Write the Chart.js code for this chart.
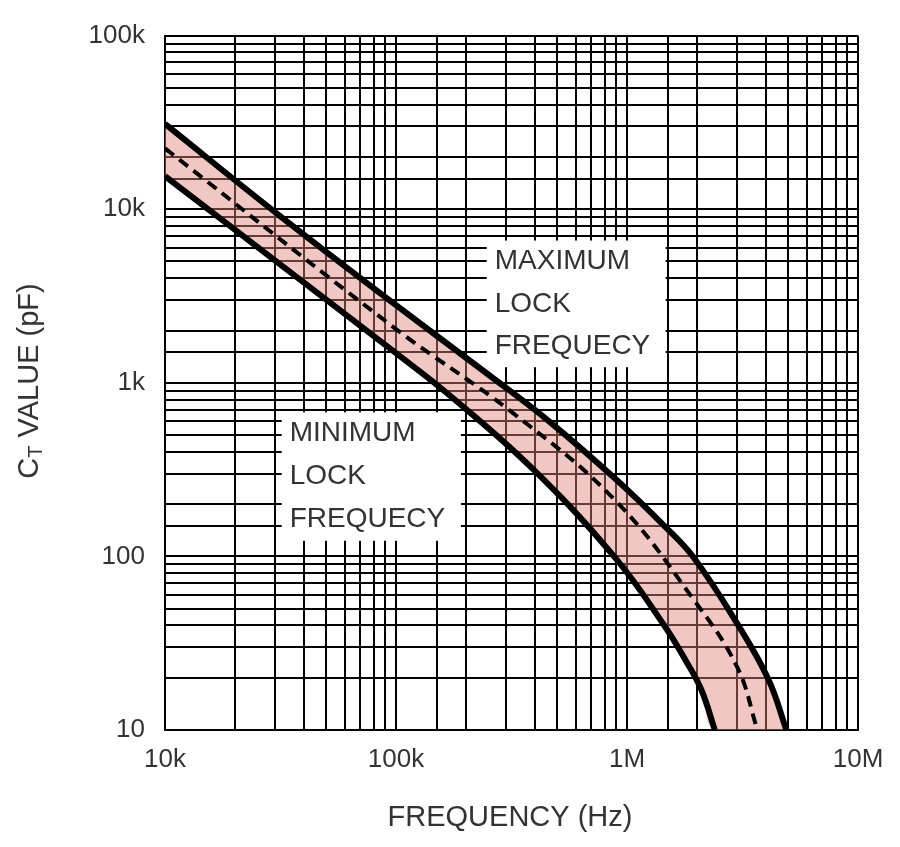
<!DOCTYPE html>
<html>
<head>
<meta charset="utf-8">
<script src="https://cdn.jsdelivr.net/npm/chart.js@4"></script>
<style>
  html, body { margin: 0; padding: 0; background: #fff; }
  #wrap { width: 900px; height: 847px; }
</style>
</head>
<body>
<div id="wrap"><canvas id="chart"></canvas></div>
<script>
// (frequency in Hz, capacitance in pF)
const maxFreq = [1e4, 3.16e4, 1e5, 2.5e5, 4.6e5, 8.9e5, 1.45e6, 1.95e6, 3.0e6, 4.1e6, 4.9e6];
const maxCap  = [31000, 9100, 2800, 1120, 600, 280, 150, 98, 41, 19.5, 10];
const minFreq = [1e4, 3.16e4, 1e5, 1.7e5, 3.9e5, 8.9e5, 1.45e6, 1.8e6, 2.1e6, 2.4e6];
const minCap  = [15500, 4800, 1480, 850, 320, 98, 40, 25, 17, 10];
const typFreq = [1e4, 1e5, 3.16e5, 8.9e5, 1.95e6, 3.0e6, 3.67e6];
const typCap  = [22400, 2040, 680, 210, 56, 23, 10];

const xTickLabels = { 1e4: '10k', 1e5: '100k', 1e6: '1M', 1e7: '10M' };
const yTickLabels = { 10: '10', 100: '100', 1000: '1k', 10000: '10k', 100000: '100k' };

// label boxes in data units, with text lines
const boxes = [
  { x0: 2.47e5, x1: 1.47e6, y0: 6600, y1: 1230, lines: ['MAXIMUM', 'LOCK', 'FREQUECY'] },
  { x0: 3.2e4, x1: 1.91e5, y0: 676, y1: 123, lines: ['MINIMUM', 'LOCK', 'FREQUECY'] }
];

const toPts = (xs, ys) => xs.map((x, i) => ({ x, y: ys[i] }));
// lower edge of the shaded band: min curve, then along the bottom to where max ends
const bandPts = [...toPts(minFreq, minCap), { x: maxFreq[maxFreq.length - 1], y: 10 }];
const FONT = "'Liberation Sans Narrow', 'Liberation Sans', Arial, sans-serif";

const decor = {
  id: 'decor',
  afterDatasetsDraw(chart) {
    const { ctx, scales: { x, y } } = chart;
    ctx.save();
    boxes.forEach(b => {
      const l = x.getPixelForValue(b.x0), r = x.getPixelForValue(b.x1);
      const t = y.getPixelForValue(b.y0), btm = y.getPixelForValue(b.y1);
      ctx.fillStyle = '#fff';
      ctx.fillRect(l, t, r - l, btm - t);
      ctx.fillStyle = '#333';
      ctx.font = '28px ' + FONT;
      ctx.textBaseline = 'middle';
      const step = (btm - t) / b.lines.length;
      b.lines.forEach((s, i) => ctx.fillText(s, l + 8, t + step * (i + 0.5), r - l - 14));
    });
    ctx.restore();
  },
  afterDraw(chart) {
    const { ctx } = chart;
    ctx.save();
    ctx.fillStyle = '#333';
    ctx.textBaseline = 'middle';
    ctx.textAlign = 'center';
    ctx.font = '29px ' + FONT;
    ctx.fillText('FREQUENCY (Hz)', 510, 818);
    // y title with subscript T
    ctx.translate(30, 381);
    ctx.rotate(-Math.PI / 2);
    ctx.textAlign = 'left';
    const main = ' VALUE (pF)';
    ctx.font = '29px ' + FONT;
    const wc = ctx.measureText('C').width;
    const wm = ctx.measureText(main).width;
    ctx.font = '20px ' + FONT;
    const wt = ctx.measureText('T').width;
    const sx = -(wc + wt + wm) / 2;
    ctx.font = '29px ' + FONT;
    ctx.fillText('C', sx, 0);
    ctx.font = '20px ' + FONT;
    ctx.fillText('T', sx + wc, 6);
    ctx.font = '29px ' + FONT;
    ctx.fillText(main, sx + wc + wt, 0);
    ctx.restore();
  }
};

const lineBase = { pointRadius: 0, borderColor: '#000', tension: 0.4 };

new Chart(document.getElementById('chart'), {
  type: 'line',
  data: {
    datasets: [
      { ...lineBase, label: 'max', data: toPts(maxFreq, maxCap), borderWidth: 6, fill: false, order: 1 },
      { ...lineBase, label: 'band', data: bandPts, borderWidth: 0, borderColor: 'rgba(0,0,0,0)',
        fill: '-1', backgroundColor: 'rgba(222,130,120,0.45)', order: 3 },
      { ...lineBase, label: 'min', data: toPts(minFreq, minCap), borderWidth: 6, fill: false, order: 1 },
      { ...lineBase, label: 'typ', data: toPts(typFreq, typCap), borderWidth: 4,
        borderDash: [11, 7], fill: false, order: 0 }
    ]
  },
  options: {
    responsive: true,
    maintainAspectRatio: false,
    animation: false,
    layout: { padding: { left: 0, top: 32, right: 42, bottom: 0 } },
    plugins: { legend: { display: false }, tooltip: { enabled: false } },
    scales: {
      x: {
        type: 'logarithmic', min: 1e4, max: 1e7,
        afterFit: s => { s.height = 117; },
        grid: { color: '#000', lineWidth: 2, drawTicks: false },
        border: { color: '#000', width: 2 },
        ticks: {
          autoSkip: false, maxRotation: 0, padding: 14, color: '#333',
          font: { family: FONT, size: 26 },
          callback: v => xTickLabels[v] || ''
        }
      },
      y: {
        type: 'logarithmic', min: 10, max: 1e5,
        afterFit: s => { s.width = 165; },
        grid: { color: '#000', lineWidth: 2, drawTicks: false },
        border: { color: '#000', width: 2 },
        ticks: {
          autoSkip: false, padding: 20, color: '#333',
          font: { family: FONT, size: 26 },
          callback: v => yTickLabels[v] || ''
        }
      }
    }
  },
  plugins: [decor]
});
</script>
</body>
</html>
